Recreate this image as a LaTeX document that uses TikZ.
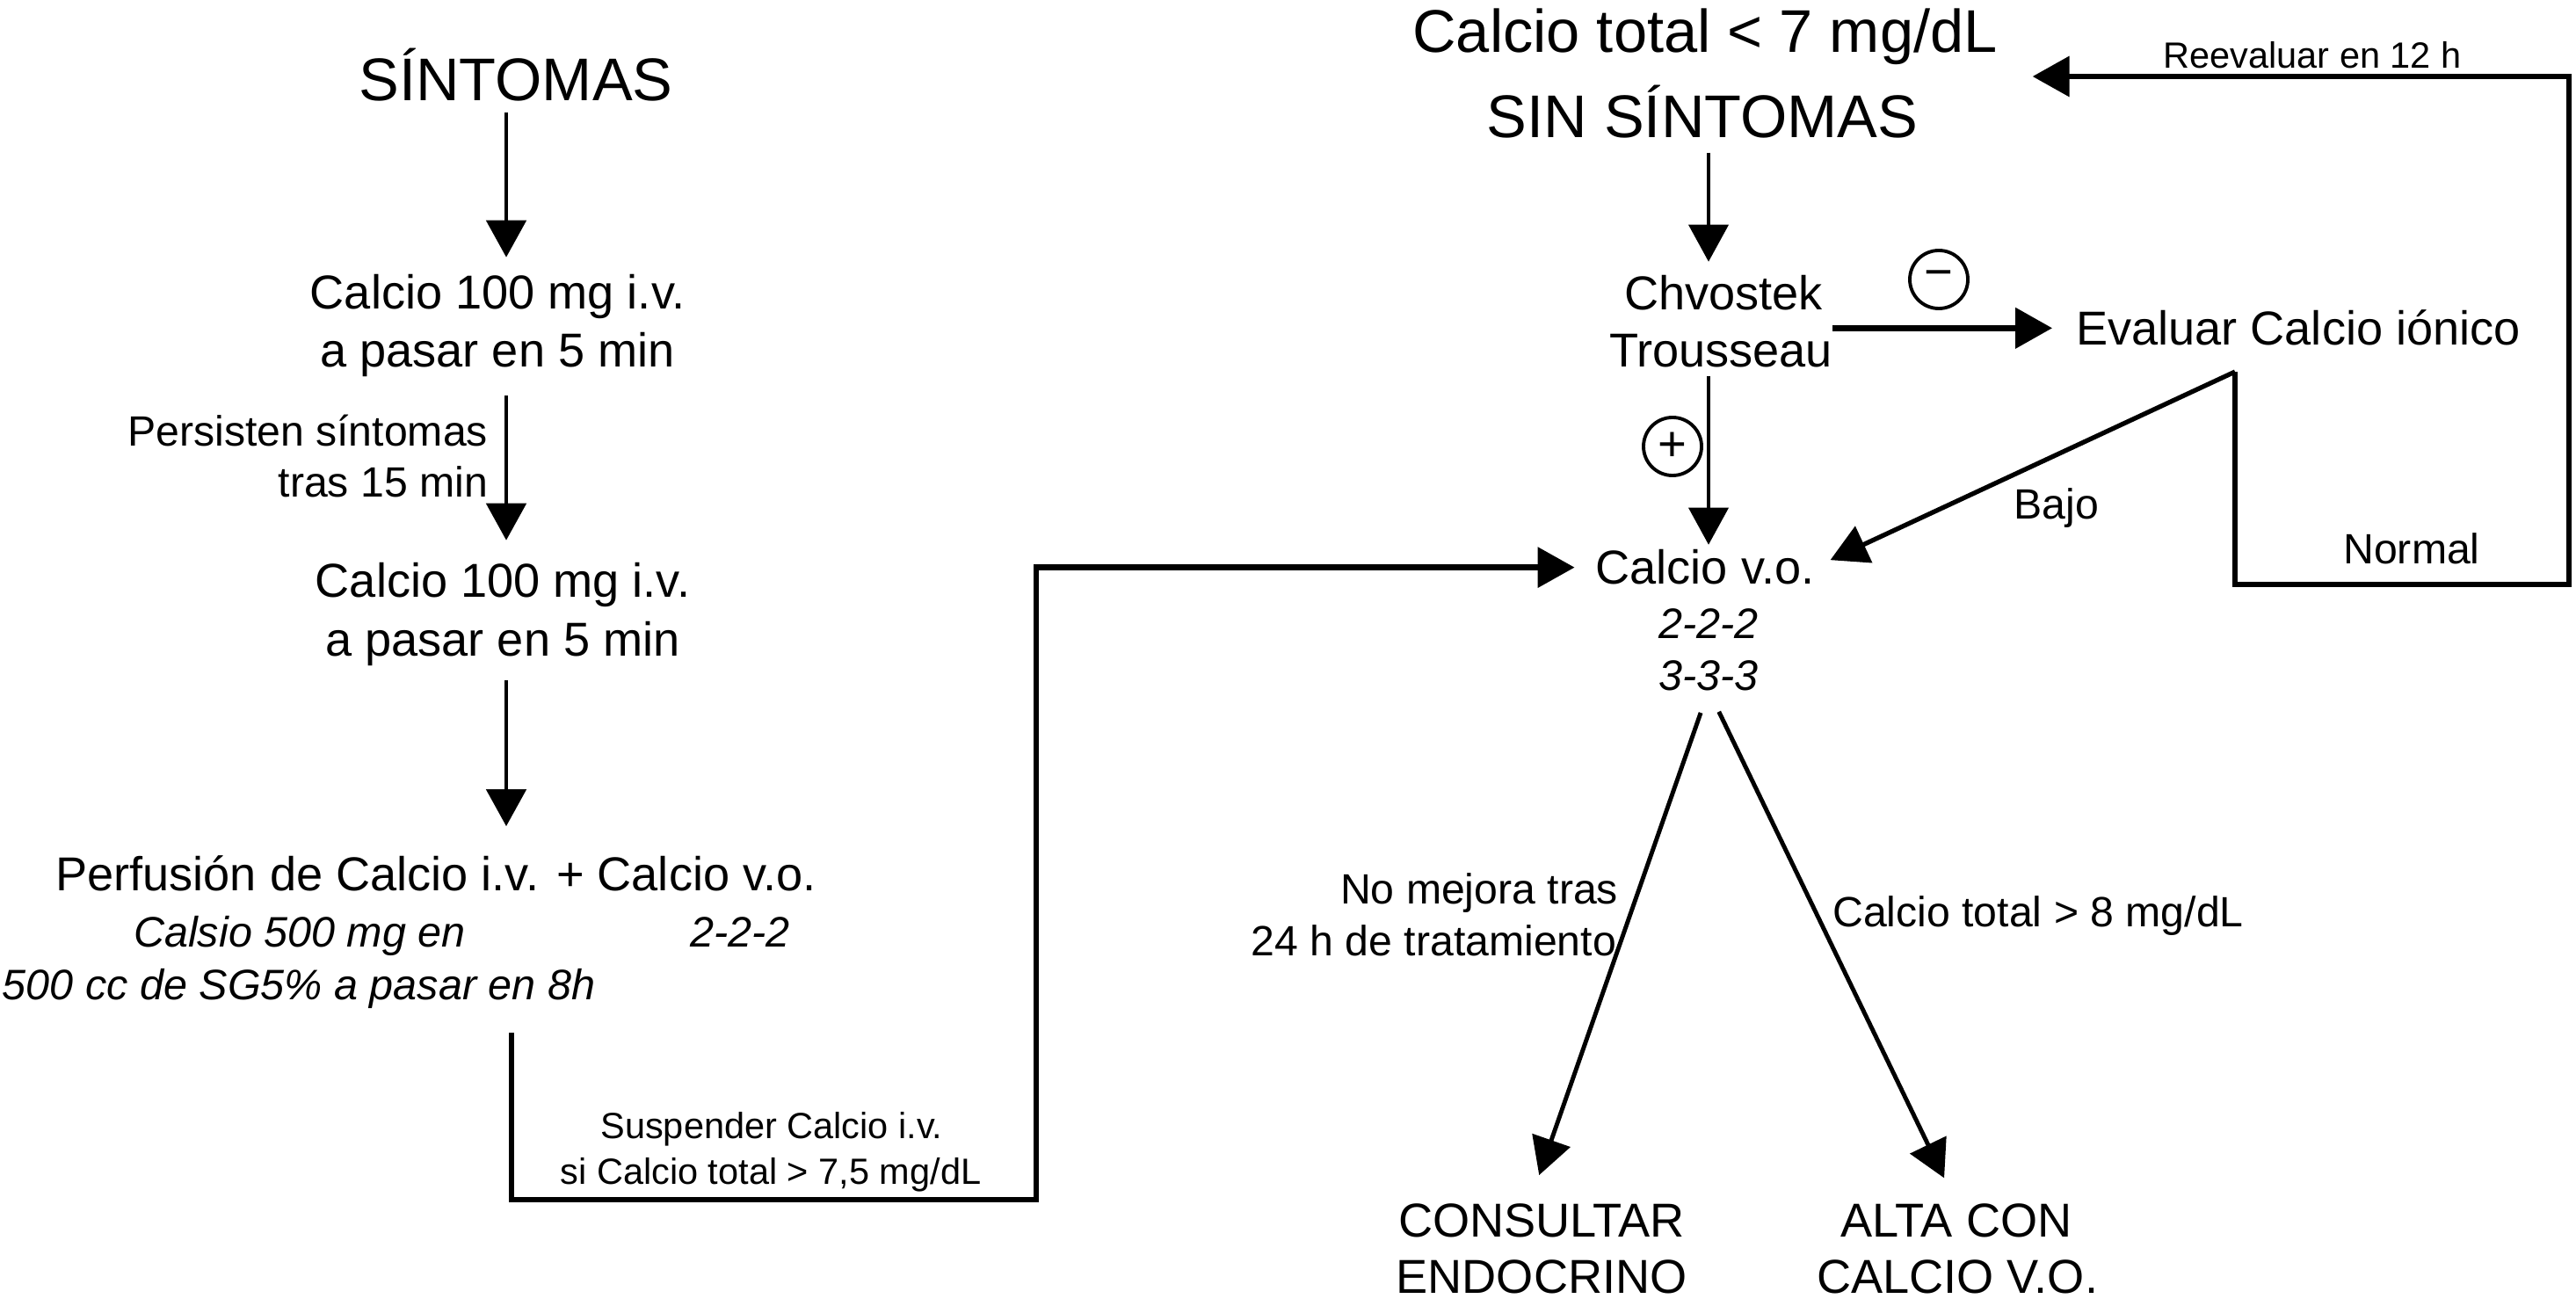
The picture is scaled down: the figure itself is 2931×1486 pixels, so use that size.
\documentclass[tikz,border=0pt]{standalone}
\usepackage{fontspec}
\setmainfont{Liberation Sans}
\usetikzlibrary{arrows.meta}
\begin{document}
\begin{tikzpicture}[x=0.01cm,y=-0.01cm,
  txt/.style={inner sep=0pt, outer sep=0pt, anchor=base},
  big/.style={txt, font=\fontsize{19.5pt}{23pt}\selectfont},
  main/.style={txt, font=\fontsize{15.4pt}{18pt}\selectfont},
  mid/.style={txt, font=\fontsize{13.7pt}{16pt}\selectfont},
  small/.style={txt, font=\fontsize{11.8pt}{14pt}\selectfont},
  ital/.style={txt, font=\fontsize{13.8pt}{16pt}\selectfont\itshape},
  arr/.style={-{Triangle[width=0.45cm,length=0.42cm]}, line width=1.4pt},
  thinarr/.style={-{Triangle[width=0.45cm,length=0.42cm]}, line width=1.05pt},
  thickarr/.style={-{Triangle[width=0.45cm,length=0.42cm]}, line width=1.9pt},
  sign/.style={circle, draw, line width=1.1pt, minimum size=0.66cm, inner sep=0pt, font=\fontsize{16pt}{16pt}\selectfont}
]
\useasboundingbox (0,0) rectangle (2931,1486);

% left column
\node[big] (sint) at (587,115) {SÍNTOMAS};
\node[main] (c1a) at (566,352) {Calcio 100 mg i.v.};
\node[main] (c1b) at (566,418) {a pasar en 5 min};
\node[mid, anchor=base east] (pa) at (555,508) {Persisten síntomas};
\node[mid, anchor=base east] (pb) at (555,566) {tras 15 min};
\node[main] (c2a) at (572,680) {Calcio 100 mg i.v.};
\node[main] (c2b) at (572,747) {a pasar en 5 min};
\node[main] (perf) at (496,1013) {Perfusión de Calcio i.v. + Calcio v.o.};
\node[ital] (calsio) at (341,1077) {Calsio 500 mg en};
\node[ital] (p222) at (842,1077) {2-2-2};
\node[ital] (cc) at (340,1137) {500 cc de SG5\% a pasar en 8h};
\node[small] (su1) at (878,1295) {Suspender Calcio i.v.};
\node[small] (su2) at (877,1347) {si Calcio total > 7,5 mg/dL};

% right part
\node[big] (tot) at (1940,60) {Calcio total < 7 mg/dL};
\node[big] (sinS) at (1937,157) {SIN SÍNTOMAS};
\node[main] (chv1) at (1961,353) {Chvostek};
\node[main] (chv2) at (1958,418) {Trousseau};
\node[main] (evalc) at (2615,393) {Evaluar Calcio iónico};
\node[main] (cvo) at (1940,665) {Calcio v.o.};
\node[ital] (d22) at (1944,727) {2-2-2};
\node[ital] (d33) at (1944,785) {3-3-3};
\node[mid] (bajo) at (2340,591) {Bajo};
\node[mid] (normal) at (2744,642) {Normal};
\node[small] (reev) at (2631,78) {Reevaluar en 12 h};
\node[mid, anchor=base east] (nm1) at (1841,1028) {No mejora tras};
\node[mid, anchor=base east] (nm2) at (1839,1087) {24 h de tratamiento};
\node[mid] (c8) at (2319,1054) {Calcio total > 8 mg/dL};
\node[main] (cons1) at (1754,1407) {CONSULTAR};
\node[main] (cons2) at (1754,1471) {ENDOCRINO};
\node[main] (alta1) at (2226,1407) {ALTA CON};
\node[main] (alta2) at (2227,1471) {CALCIO V.O.};
\node[sign] (minus) at (2206,318) {−};
\node[sign] (plus) at (1903,508) {+};

% helper coordinates
\coordinate (axL) at (576,0);
\coordinate (axR) at (1944,0);
\coordinate (sL) at (582,1365);
\coordinate (sR) at (1179,1365);
\coordinate (ev) at (2543,423);
\coordinate (n1) at (2543,665);
\coordinate (n2) at (2923,665);
\coordinate (n3) at (2923,87);

% connectors
\draw[arr, shorten <=0.12cm, shorten >=0.2cm] (sint.south -| axL) -- (c1a.north -| axL);
\draw[arr, shorten <=0.21cm, shorten >=0.26cm] (c1b.south -| axL) -- (c2a.north -| axL);
\draw[arr, shorten <=0.16cm, shorten >=0.33cm] (c2b.south -| axL) -- (perf.north -| axL);
\draw[thickarr, shorten <=0.28cm, shorten >=0.24cm] (cc.south -| sL) -- (sL) -- (sR) -- (sR |- cvo.west) -- (cvo.west);

\draw[thinarr, shorten <=0.16cm, shorten >=0.16cm] (sinS.south -| axR) -- (chv1.north -| axR);
\draw[thickarr, line width=2.1pt, shorten >=0.27cm] (chv2.east |- evalc.west) -- (evalc.west);
\draw[thinarr, shorten <=0.09cm, shorten >=0.06cm] (chv2.south -| axR) -- (cvo.north -| axR);
\draw[arr, line width=1.5pt, shorten >=0.2cm] (ev) -- (cvo.east);
\draw[thickarr, shorten >=0.4cm] (ev) -- (n1) -- (n2) -- (n3) -- (n3 -| tot.east);
\draw[arr, shorten <=0.27cm, shorten >=0.34cm] (d33.south) -- ([xshift=-0.14cm]cons1.north);
\draw[arr, shorten <=0.27cm, shorten >=0.32cm] (d33.south) -- (alta1.north);
\end{tikzpicture}
\end{document}
